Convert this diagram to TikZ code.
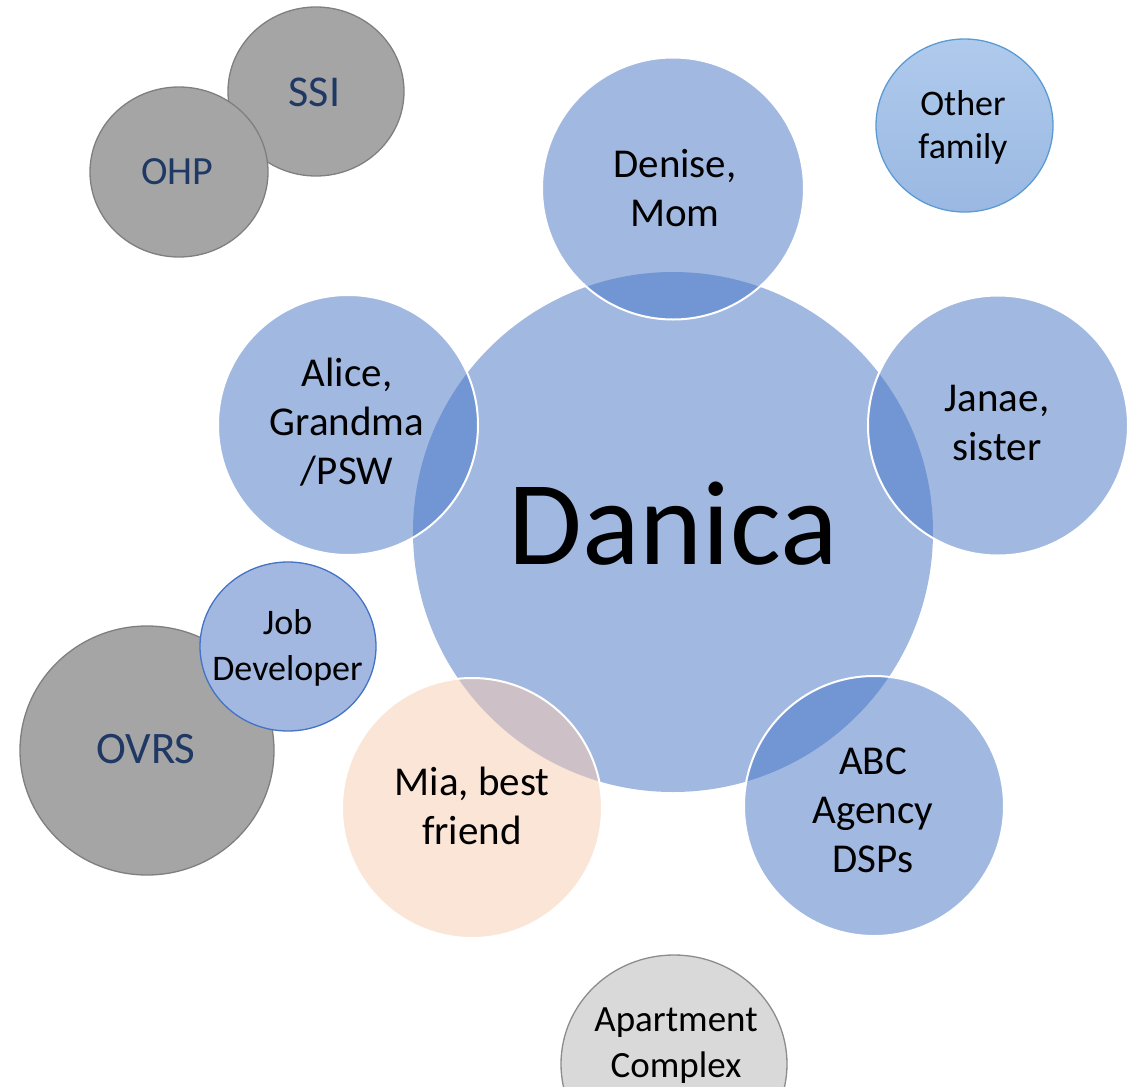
\documentclass[tikz,border=0pt]{standalone}
\usepackage{fontspec}
\setmainfont{Carlito}
\usetikzlibrary{shapes.geometric}
\definecolor{accblue}{HTML}{4472C4}
\definecolor{peach}{HTML}{F8CBAD}
\definecolor{gfill}{HTML}{A5A5A5}
\definecolor{gline}{HTML}{7F7F7F}
\definecolor{navy}{HTML}{1F3864}
\definecolor{lgfill}{HTML}{D9D9D9}
\definecolor{lgline}{HTML}{8C8C8C}
\definecolor{jobfill}{HTML}{A2B8E0}
\definecolor{othtop}{HTML}{AFCAEC}
\definecolor{othbot}{HTML}{9AB8E2}
\definecolor{othline}{HTML}{5B9BD5}
\tikzset{
  bubble/.style={circle, inner sep=0pt, minimum size=#1},
  oval/.style 2 args={ellipse, inner sep=0pt, minimum width=#1, minimum height=#2},
  bluebub/.style={bubble=#1, fill=accblue, fill opacity=0.5, draw=white, draw opacity=1, line width=2pt},
  graybub/.style={fill=gfill, draw=gline, line width=1.3pt},
  lbl/.style={align=center, inner sep=0pt, text=black, font=\fontsize{41}{49}\selectfont},
  navylbl/.style={inner sep=0pt, text=navy, font=\fontsize{#1}{#1}\selectfont},
}
\begin{document}
\begin{tikzpicture}[x=1pt, y=-1pt]
\useasboundingbox (0,0) rectangle (1136,1087);
\clip (0,0) rectangle (1136,1087);
% gray agency bubbles
\node[oval={176pt}{169pt}, graybub] (ssi) at (316,91.5) {};
\node[oval={178pt}{170pt}, graybub] (ohp) at (179,172) {};
\node[oval={254pt}{249pt}, graybub] (ovrs) at (147,750.5) {};
\node[oval={176pt}{169pt}, fill=jobfill, draw=accblue, line width=1.3pt] (job) at (288,646.5) {};
\node[oval={177pt}{173pt}, top color=othtop, bottom color=othbot, draw=othline, line width=1.3pt] (other) at (964.5,125.5) {};
\node[oval={226pt}{218pt}, fill=lgfill, draw=lgline, line width=1.3pt] (apt) at (674,1064) {};
% central person
\node[bubble=520pt, fill=accblue, fill opacity=0.5] (danica) at (673,532) {};
% close circle
\node[bluebub=262pt] (denise) at (673,188.5) {};
\node[bluebub=260pt] (alice) at (348,425) {};
\node[bluebub=260pt] (janae) at (998,425.5) {};
\node[bluebub=260pt] (abc) at (874,806) {};
\node[bubble=260pt, fill=peach, fill opacity=0.5, draw=white, draw opacity=1, line width=2pt] (mia) at (472,808) {};
% labels
\node[lbl, font=\fontsize{120}{120}\selectfont] (danica-t) at (673,524) {Danica};
\node[lbl] (denise-t) at (675,188) {Denise,\\Mom};
\node[lbl] (alice-t) at (347,422) {Alice,\\Grandma\\/PSW};
\node[lbl] (janae-t) at (997,422.5) {Janae,\\sister};
\node[lbl] (mia-t) at (472,806) {Mia, best\\friend};
\node[lbl] (abc-t) at (873,810) {ABC\\Agency\\DSPs};
\node[lbl, font=\fontsize{36}{43}\selectfont] (other-t) at (963,127) {Other\\family};
\node[lbl, font=\fontsize{36}{46}\selectfont] (job-t) at (287.5,648) {Job\\Developer};
\node[lbl, font=\fontsize{37}{46}\selectfont] (apt-t) at (676,1046) {Apartment\\Complex};
\node[navylbl=44] (ssi-t) at (314.5,92.5) {SSI};
\node[navylbl=40] (ohp-t) at (177.5,172) {OHP};
\node[navylbl=45] (ovrs-t) at (146,749) {OVRS};
\end{tikzpicture}
\end{document}
